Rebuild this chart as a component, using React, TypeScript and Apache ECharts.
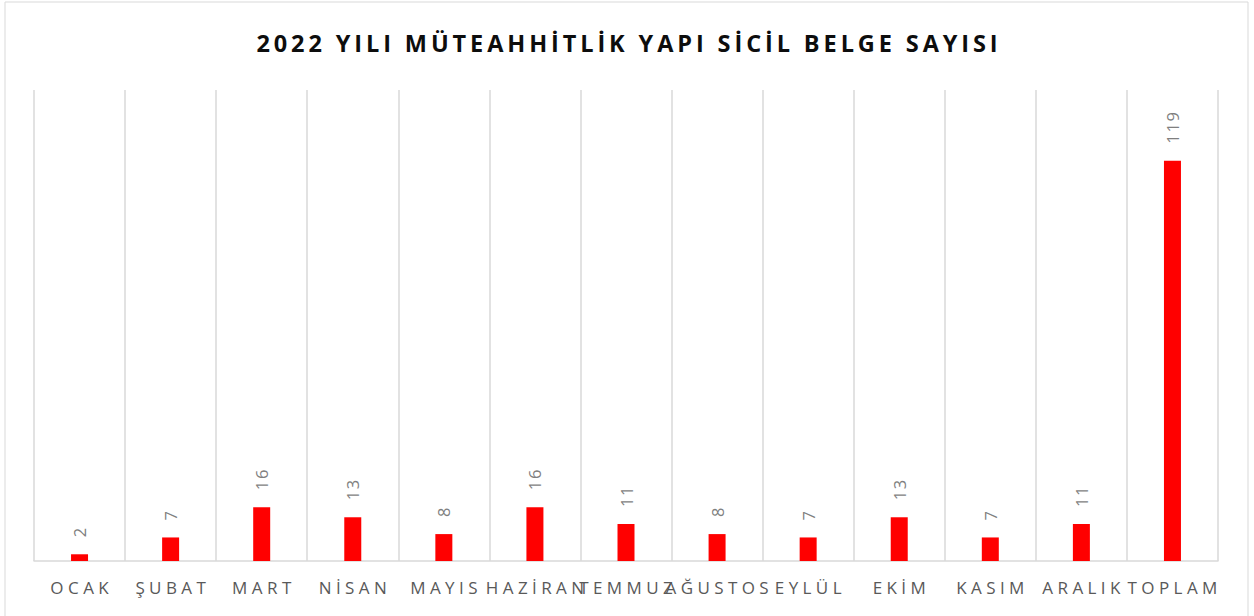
import React, { useEffect, useRef } from "react";
import * as echarts from "echarts";

const titleText = "2022 YILI MÜTEAHHİTLİK YAPI SİCİL BELGE SAYISI";
const categories = ["OCAK", "ŞUBAT", "MART", "NİSAN", "MAYIS", "HAZİRAN", "TEMMUZ", "AĞUSTOS", "EYLÜL", "EKİM", "KASIM", "ARALIK", "TOPLAM"];
const values = [2, 7, 16, 13, 8, 16, 11, 8, 7, 13, 7, 11, 119];

const spaced = (s: string, sep: string) => Array.from(s).join(sep);

export default function App() {
  const ref = useRef<HTMLDivElement>(null);
  useEffect(() => {
    document.body.style.margin = "0";
    const chart = echarts.init(ref.current!, undefined, { renderer: "svg" });
    chart.setOption({
      animation: false,
      backgroundColor: "#ffffff",
      title: {
        text: spaced(titleText, "\u2009"),
        left: "center",
        top: 26,
        textStyle: { fontFamily: "Open Sans", fontWeight: "bold", fontSize: 23.5, color: "#0d0d0d" },
      },
      graphic: [
        {
          type: "rect",
          shape: { x: 5, y: 2, width: 1243, height: 630 },
          style: { fill: "none", stroke: "#d9d9d9", lineWidth: 1 },
          silent: true,
        },
      ],
      grid: { left: 34, right: 36, top: 90, bottom: 55 },
      xAxis: {
        type: "category",
        data: categories,
        boundaryGap: true,
        axisLine: { show: true, lineStyle: { color: "#d9d9d9", width: 1.5 } },
        axisTick: { show: false },
        splitLine: { show: true, lineStyle: { color: "#d9d9d9", width: 1.5 } },
        axisLabel: {
          interval: 0,
          hideOverlap: false,
          margin: 18,
          color: "#595959",
          fontFamily: "Open Sans",
          fontSize: 17,
          formatter: (v: string) => spaced(v, " "),
        },
      },
      yAxis: {
        type: "value",
        min: 0,
        max: 140,
        show: false,
        splitLine: { show: false },
      },
      series: [
        {
          type: "bar",
          data: values,
          barWidth: 17,
          itemStyle: { color: "#ff0000" },
          label: {
            show: true,
            position: "top",
            rotate: 90,
            distance: 17,
            align: "left",
            verticalAlign: "middle",
            color: "#7f7f7f",
            fontFamily: "Open Sans",
            fontSize: 16.5,
            formatter: (p: any) => spaced(String(p.value), "\u200A"),
          },
        },
      ],
    });
    return () => chart.dispose();
  }, []);
  return <div ref={ref} style={{ width: 1254, height: 616 }} />;
}
